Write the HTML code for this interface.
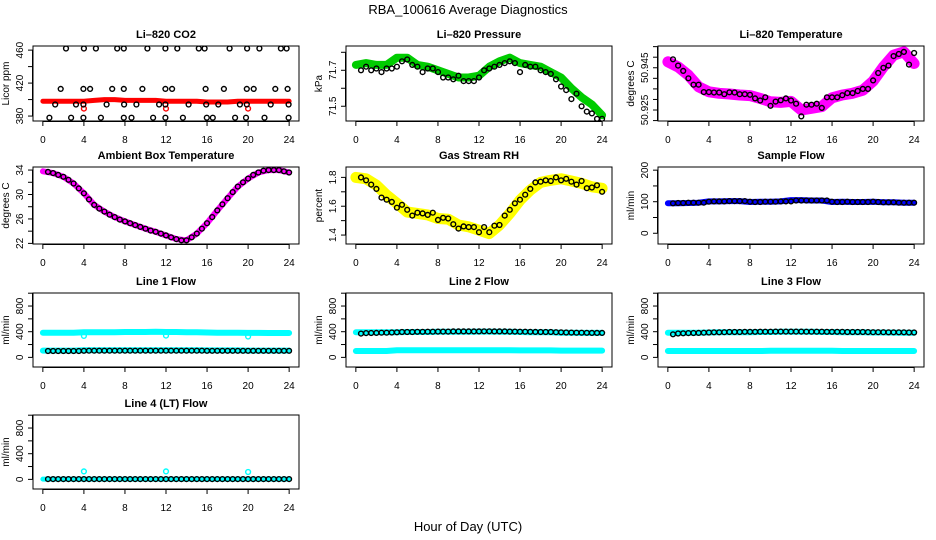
<!DOCTYPE html>
<html><head><meta charset="utf-8">
<style>
html,body{margin:0;padding:0;background:#fff;}
svg{display:block;font-family:"Liberation Sans",Arial,sans-serif;}
</style></head>
<body>
<svg id="chart" width="936" height="540" viewBox="0 0 936 540" xmlns="http://www.w3.org/2000/svg">
<rect x="0" y="0" width="936" height="540" fill="#fff"/>
<text x="468" y="14" text-anchor="middle" font-size="13">RBA_100616  Average Diagnostics</text>
<text x="468" y="531" text-anchor="middle" font-size="13">Hour of Day (UTC)</text>
<g id="panels"></g>
</svg>
<script>
// ---------- data ----------
const hourTicks = [0,4,8,12,16,20,24];
const hourly = [0,1,2,3,4,5,6,7,8,9,10,11,12,13,14,15,16,17,18,19,20,21,22,23,24];
const halfHours = [0.5,1,1.5,2,2.5,3,3.5,4,4.5,5,5.5,6,6.5,7,7.5,8,8.5,9,9.5,10,10.5,11,11.5,12,12.5,13,13.5,14,14.5,15,15.5,16,16.5,17,17.5,18,18.5,19,19.5,20,20.5,21,21.5,22,22.5,23,23.5,24];

// CO2
const co2Red = [398,398,398,398,398,399,400,400,399,399,399,399,398,398,398,398,397,397,397,398,398,398,398,398,398];
const co2RedOutlierHours = [4,12,20];
const co2RedOutlierValues = [389,389,389];
const co2BlackHours = [2.26,4.0,5.17,7.24,7.89,10.19,11.94,13.1,15.2,15.76,18.2,19.9,21.1,23.2,23.75,
  1.74,3.95,4.6,6.76,7.89,9.7,11.94,12.59,15.86,17.64,19.87,20.55,22.65,23.85,
  1.2,3.23,3.95,6.21,7.92,9.12,11.33,11.94,14.2,15.92,17.1,19.2,19.87,22.2,23.95,
  0.64,2.75,3.95,5.66,7.89,8.64,10.74,11.94,13.65,15.98,16.56,18.73,19.8,21.6,23.95];
const co2BlackValues = [462,462,462,462,462,462,462,462,462,462,462,462,462,462,462,
  413,413,413,413,413,413,413,413,413,413,413,413,413,413,
  394,394,394,394,394,394,394,394,394,394,394,394,394,394,394,
  378,378,378,378,378,378,378,378,378,378,378,378,378,378,378];
const co2Ticks = [380,400,420,440,460];
const co2Labels = [380,420,460];

// Pressure
const presGreen = [71.73,71.74,71.73,71.73,71.77,71.77,71.73,71.72,71.70,71.68,71.66,71.66,71.67,71.72,71.75,71.77,71.74,71.73,71.72,71.69,71.66,71.60,71.55,71.51,71.45];
const presBlack = [71.70,71.72,71.70,71.71,71.69,71.71,71.71,71.72,71.75,71.76,71.73,71.72,71.69,71.71,71.71,71.69,71.66,71.66,71.65,71.67,71.64,71.64,71.64,71.66,71.70,71.71,71.72,71.73,71.74,71.75,71.74,71.69,71.73,71.72,71.72,71.70,71.69,71.68,71.65,71.61,71.59,71.54,71.57,71.50,71.47,71.46,71.43,71.43];
const presTicks = [71.5,71.6,71.7,71.8];
const presLabels = [71.5,71.7];

// Li-820 temperature
const tempMag = [50.9478,50.9454,50.9415,50.936,50.9336,50.9329,50.9326,50.9321,50.9318,50.9305,50.9289,50.9286,50.9291,50.925,50.9258,50.9266,50.9308,50.9321,50.9329,50.9344,50.9387,50.9454,50.951,50.9525,50.947];
const tempBlack = [50.949,50.946,50.9435,50.940,50.937,50.937,50.9335,50.9335,50.9333,50.9333,50.9325,50.9334,50.9333,50.9325,50.9325,50.9322,50.9305,50.9295,50.931,50.927,50.929,50.9296,50.9305,50.9295,50.928,50.922,50.9275,50.9275,50.928,50.926,50.931,50.931,50.931,50.932,50.933,50.933,50.934,50.935,50.935,50.939,50.9425,50.945,50.946,50.9505,50.9515,50.9525,50.9465,50.952];
const tempTicks = [50.920,50.925,50.930,50.935,50.940,50.945,50.950,50.955];
const tempLabels = [50.925,50.945];

// Ambient box temperature
const ambMag = [33.8,33.5,32.9,31.8,30.2,28.3,27.2,26.3,25.6,25.0,24.4,23.9,23.3,22.7,22.5,23.6,25.3,27.4,29.4,31.3,32.6,33.6,34.0,34.0,33.6];
const ambBlack = [33.7,33.5,33.2,32.9,32.4,31.8,31.0,30.2,29.2,28.3,27.7,27.2,26.7,26.3,25.9,25.6,25.3,25.0,24.7,24.4,24.1,23.9,23.6,23.3,23.0,22.7,22.5,22.5,23.0,23.6,24.4,25.3,26.3,27.4,28.4,29.4,30.4,31.3,32.0,32.6,33.2,33.6,33.9,34.0,34.0,34.0,33.8,33.6];
const ambTicks = [22,24,26,28,30,32,34];
const ambLabels = [22,26,30,34];

// Gas stream RH
const rhYellow = [1.80,1.79,1.746,1.677,1.62,1.56,1.55,1.54,1.515,1.51,1.47,1.457,1.434,1.41,1.47,1.55,1.642,1.712,1.765,1.78,1.79,1.775,1.758,1.735,1.724];
const rhBlack = [1.80,1.78,1.75,1.72,1.66,1.645,1.63,1.59,1.61,1.575,1.535,1.555,1.55,1.54,1.555,1.505,1.52,1.515,1.475,1.445,1.46,1.455,1.455,1.42,1.455,1.42,1.465,1.47,1.535,1.575,1.62,1.645,1.68,1.72,1.765,1.77,1.78,1.775,1.80,1.78,1.79,1.77,1.75,1.775,1.725,1.73,1.745,1.70];
const rhTicks = [1.4,1.5,1.6,1.7,1.8];
const rhLabels = [1.4,1.6,1.8];

// Sample flow
const sampleBlue = [95,95,96,97,101,101,102,102,99,100,100,101,105,105,104,104,99,100,99,99,100,98,98,97,97];
const sampleBlack = [95,96,96,97,97,97,97,100,101,101,101,102,102,102,102,100,99,99,100,100,100,101,101,101,104,104,104,104,104,104,104,100,99,99,100,99,99,99,99,100,99,98,98,98,97,97,97,97];
const sampleTicks = [0,50,100,150,200];
const sampleLabels = [0,100,200];

// Line flows
const flowTicks = [0,200,400,600,800,1000];
const flowLabels = [0,400,800];
const line1Cyan = [385,385,385,385,390,392,392,392,395,395,395,398,395,395,392,392,388,385,385,385,382,382,380,380,380];
const line1CyanLow = [105,105,105,105,110,112,112,112,110,110,112,112,112,112,112,110,108,108,108,108,106,106,106,106,106];
const line1OutlierHours = [4,12,20];
const line1OutlierValues = [335,340,325];
const line1Black = [100,100,100,100,100,100,100,102,104,104,104,104,104,104,104,104,104,104,104,104,104,104,104,104,104,104,104,104,104,104,104,102,102,102,102,102,102,102,102,102,102,102,102,102,102,102,102,102];
const line2Cyan = [390,390,390,390,392,395,395,395,398,398,400,400,402,402,400,400,395,392,392,390,385,385,382,382,382];
const line2CyanLow = [100,100,100,100,110,110,110,110,110,110,110,110,112,112,112,112,108,108,108,108,106,106,106,106,106];
const line2Black = [370,378,380,382,385,385,388,390,395,395,396,398,398,400,400,402,402,402,404,404,404,405,405,405,406,406,405,404,404,402,402,400,400,398,397,396,395,395,392,390,388,386,385,384,383,382,382,382];
const line3Cyan = [385,385,385,385,388,390,390,392,392,395,395,398,398,398,398,396,395,392,392,390,388,388,386,385,385];
const line3CyanLow = [100,100,100,100,100,100,100,100,100,100,102,102,102,102,102,102,102,100,100,100,100,100,100,100,100];
const line3Black = [360,372,375,378,380,382,385,388,390,390,392,395,395,395,398,398,398,400,400,400,402,402,402,402,402,402,400,400,400,400,398,398,398,398,396,395,395,395,394,392,392,392,390,390,390,390,388,388];
const line4Cyan = [5,5,5,5,5,5,5,5,5,5,5,5,5,5,5,5,5,5,5,5,5,5,5,5,5];
const line4OutlierHours = [4,12,20];
const line4OutlierValues = [125,125,115];
const line4Black = [5,5,5,5,5,5,5,5,5,5,5,5,5,5,5,5,5,5,5,5,5,5,5,5,5,5,5,5,5,5,5,5,5,5,5,5,5,5,5,5,5,5,5,5,5,5,5,5];

// ---------- drawing ----------
const NS = 'http://www.w3.org/2000/svg';
const root = document.getElementById('panels');
const colLeft = [33, 346, 658];
const rowTop = [46, 167, 293, 415];
const rowH = [75, 77, 74, 74];
const boxW = 266;
const XMIN = -0.96, XMAX = 24.96;

function mk(tag, parent, attrs) {
  const el = document.createElementNS(NS, tag);
  for (const k in attrs) el.setAttribute(k, attrs[k]);
  parent.appendChild(el);
  return el;
}

function panel(p) {
  const L = colLeft[p.col], T = rowTop[p.row], H = rowH[p.row];
  const g = mk('g', root, {});
  
  
  const sx = v => L + (v - XMIN) / (XMAX - XMIN) * boxW;
  const sy = v => T + H - (v - p.ymin) / (p.ymax - p.ymin) * H;
  const clip = 'clip-' + p.name;
  const cp = mk('clipPath', g, {id: clip});
  mk('rect', cp, {x: L, y: T, width: boxW, height: H});
  const plot = mk('g', g, {'clip-path': 'url(#' + clip + ')'});
  
  

  (p.bands || []).forEach(b => {
    const pts = b.xs.map((x, i) => sx(x).toFixed(1) + ',' + sy(b.ys[i]).toFixed(1)).join(' ');
    const pl = mk('polyline', plot, {points: pts, fill: 'none', stroke: b.color, 'stroke-width': b.w, 'stroke-linejoin': 'round', 'stroke-linecap': 'round'});
    
    
  });
  (p.points || []).forEach(s => {
    const sg = mk('g', plot, {});
    
    
    s.xs.forEach((x, i) => {
      const c = mk('circle', sg, {cx: sx(x).toFixed(1), cy: sy(s.ys[i]).toFixed(1), r: 2.4, fill: 'none', stroke: s.color, 'stroke-width': 1.4});
      
      
    });
  });

  const box = mk('rect', g, {x: L, y: T, width: boxW, height: H, fill: 'none', stroke: '#000', 'stroke-width': 1});
  
  

  const title = mk('text', g, {x: L + boxW / 2, y: T - 8, 'text-anchor': 'middle', 'font-size': 11, 'font-weight': 'bold'});
  title.textContent = p.title;
  
  

  // x axis
  const xa = mk('g', g, {});
  
  
  const yb = T + H;
  mk('line', xa, {x1: sx(hourTicks[0]), x2: sx(hourTicks[hourTicks.length - 1]), y1: yb + 0.5, y2: yb + 0.5, stroke: '#000'});
  hourTicks.forEach(h => {
    mk('line', xa, {x1: sx(h), x2: sx(h), y1: yb, y2: yb + 5, stroke: '#000'});
    const t = mk('text', xa, {x: sx(h), y: yb + 22, 'text-anchor': 'middle', 'font-size': 10});
    t.textContent = h;
    
    
  });

  // y axis
  const ya = mk('g', g, {});
  
  
  mk('line', ya, {x1: L - 0.5, x2: L - 0.5, y1: sy(p.ticks[0]), y2: sy(p.ticks[p.ticks.length - 1]), stroke: '#000'});
  p.ticks.forEach(v => {
    mk('line', ya, {x1: L - 5, x2: L, y1: sy(v), y2: sy(v), stroke: '#000'});
  });
  p.labels.forEach(v => {
    const yy = sy(v);
    const t = mk('text', ya, {x: L - 10, y: yy, 'text-anchor': 'middle', 'font-size': 10, transform: 'rotate(-90 ' + (L - 10) + ' ' + yy + ')'});
    t.textContent = p.fmt ? p.fmt(v) : v;
    
    
  });
  const cy = T + H / 2;
  const yl = mk('text', g, {x: L - 24, y: cy, 'text-anchor': 'middle', 'font-size': 10, transform: 'rotate(-90 ' + (L - 24) + ' ' + cy + ')'});
  yl.textContent = p.ylab;
  
  
}

panel({name: 'co2', title: 'Li\u2013820 CO2', ylab: 'Licor ppm', col: 0, row: 0, ymin: 374, ymax: 465, ticks: co2Ticks, labels: co2Labels,
  bands: [{xs: hourly, ys: co2Red, color: '#ff0000', w: 5, label: 'red-series'}],
  points: [{xs: co2RedOutlierHours, ys: co2RedOutlierValues, color: '#ff0000', label: 'red-outliers'},
           {xs: co2BlackHours, ys: co2BlackValues, color: '#000', label: 'black-points'}]});

panel({name: 'pressure', title: 'Li\u2013820 Pressure', ylab: 'kPa', col: 1, row: 0, ymin: 71.418, ymax: 71.835, ticks: presTicks, labels: presLabels, fmt: v => v.toFixed(1),
  bands: [{xs: hourly, ys: presGreen, color: '#00cc00', w: 8, label: 'green-series'}],
  points: [{xs: halfHours, ys: presBlack, color: '#000', label: 'black-points'}]});

panel({name: 'li820-temp', title: 'Li\u2013820 Temperature', ylab: 'degrees C', col: 2, row: 0, ymin: 50.9198, ymax: 50.9553, ticks: tempTicks, labels: tempLabels, fmt: v => v.toFixed(3),
  bands: [{xs: hourly, ys: tempMag, color: '#ff00ff', w: 11, label: 'magenta-series'}],
  points: [{xs: halfHours, ys: tempBlack, color: '#000', label: 'black-points'}]});

panel({name: 'ambient', title: 'Ambient Box Temperature', ylab: 'degrees C', col: 0, row: 1, ymin: 21.9, ymax: 34.5, ticks: ambTicks, labels: ambLabels,
  bands: [{xs: hourly, ys: ambMag, color: '#ff00ff', w: 6, label: 'magenta-series'}],
  points: [{xs: halfHours, ys: ambBlack, color: '#000', label: 'black-points'}]});

panel({name: 'gas-rh', title: 'Gas Stream RH', ylab: 'percent', col: 1, row: 1, ymin: 1.338, ymax: 1.872, ticks: rhTicks, labels: rhLabels, fmt: v => v.toFixed(1),
  bands: [{xs: hourly, ys: rhYellow, color: '#ffff00', w: 11, label: 'yellow-series'}],
  points: [{xs: halfHours, ys: rhBlack, color: '#000', label: 'black-points'}]});

panel({name: 'sample-flow', title: 'Sample Flow', ylab: 'ml/min', col: 2, row: 1, ymin: -34, ymax: 210, ticks: sampleTicks, labels: sampleLabels,
  bands: [{xs: hourly, ys: sampleBlue, color: '#0000ff', w: 6, label: 'blue-series'}],
  points: [{xs: halfHours, ys: sampleBlack, color: '#000', label: 'black-points'}]});

panel({name: 'line1-flow', title: 'Line 1 Flow', ylab: 'ml/min', col: 0, row: 2, ymin: -150, ymax: 1003, ticks: flowTicks, labels: flowLabels,
  bands: [{xs: hourly, ys: line1Cyan, color: '#00ffff', w: 6, label: 'cyan-series'},
          {xs: hourly, ys: line1CyanLow, color: '#00ffff', w: 6, label: 'cyan-low-series'}],
  points: [{xs: line1OutlierHours, ys: line1OutlierValues, color: '#00ffff', label: 'cyan-outliers'},
           {xs: halfHours, ys: line1Black, color: '#000', label: 'black-points'}]});

panel({name: 'line2-flow', title: 'Line 2 Flow', ylab: 'ml/min', col: 1, row: 2, ymin: -150, ymax: 1003, ticks: flowTicks, labels: flowLabels,
  bands: [{xs: hourly, ys: line2Cyan, color: '#00ffff', w: 6, label: 'cyan-series'},
          {xs: hourly, ys: line2CyanLow, color: '#00ffff', w: 6, label: 'cyan-low-series'}],
  points: [{xs: halfHours, ys: line2Black, color: '#000', label: 'black-points'}]});

panel({name: 'line3-flow', title: 'Line 3 Flow', ylab: 'ml/min', col: 2, row: 2, ymin: -150, ymax: 1003, ticks: flowTicks, labels: flowLabels,
  bands: [{xs: hourly, ys: line3Cyan, color: '#00ffff', w: 6, label: 'cyan-series'},
          {xs: hourly, ys: line3CyanLow, color: '#00ffff', w: 6, label: 'cyan-low-series'}],
  points: [{xs: halfHours, ys: line3Black, color: '#000', label: 'black-points'}]});

panel({name: 'line4-flow', title: 'Line 4 (LT) Flow', ylab: 'ml/min', col: 0, row: 3, ymin: -150, ymax: 1003, ticks: flowTicks, labels: flowLabels,
  bands: [{xs: hourly, ys: line4Cyan, color: '#00ffff', w: 5, label: 'cyan-series'}],
  points: [{xs: line4OutlierHours, ys: line4OutlierValues, color: '#00ffff', label: 'cyan-outliers'},
           {xs: halfHours, ys: line4Black, color: '#000', label: 'black-points'}]});
</script>
</body></html>
